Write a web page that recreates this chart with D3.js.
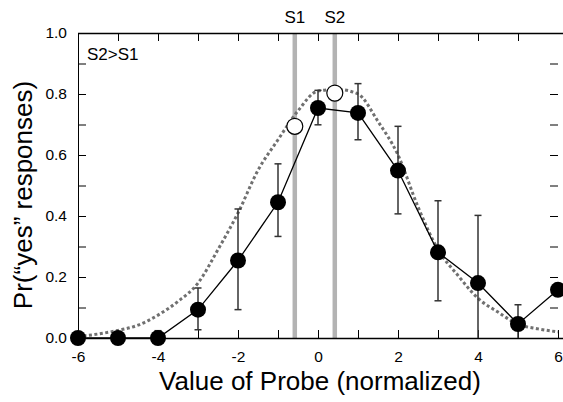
<!DOCTYPE html>
<html>
<head>
<meta charset="utf-8">
<script src="https://cdn.jsdelivr.net/npm/d3@7"></script>
<style>
  body { margin: 0; background: #fff; }
  svg text { font-family: "Liberation Sans", Arial, Helvetica, sans-serif; }
</style>
</head>
<body>
<svg width="563" height="402"></svg>
<script>
// probe values and observed proportions (filled circles)
const probe = [-6, -5, -4, -3, -2, -1, 0, 1, 2, 3, 4, 5, 6];
const pYes  = [0, 0, 0, 0.093, 0.254, 0.445, 0.754, 0.738, 0.549, 0.281, 0.180, 0.046, 0.158];
const errLo = [null, null, 0, 0.027, 0.093, 0.333, 0.699, 0.650, 0.407, 0.122, 0, 0, null];
const errHi = [null, null, 0.024, 0.164, 0.423, 0.571, 0.812, 0.834, 0.694, 0.450, 0.402, 0.109, null];

// model curve (dashed grey)
const modelX = [-6, -5.5, -5, -4.5, -4, -3.5, -3, -2.5, -2, -1.5, -1, -0.5, 0, 0.5, 1, 1.5, 2, 2.5, 3, 3.5, 4, 4.5, 5, 5.5, 6];
const modelY = [0.005, 0.013, 0.025, 0.042, 0.075, 0.12, 0.18, 0.29, 0.41, 0.55, 0.65, 0.745, 0.81, 0.815, 0.80, 0.71, 0.60, 0.43, 0.29, 0.205, 0.13, 0.085, 0.045, 0.03, 0.02];

// standards S1, S2 (open circles on the grey bars)
const stdLabel = ["S1", "S2"];
const stdX = [-0.58, 0.42];
const stdY = [0.694, 0.803];

const xTicks = d3.range(-6, 7, 1);
const yTicks = d3.range(0, 1.01, 0.1);

const svg = d3.select("svg");
const W = 563;
const mLeft = 78, mRight = 558, mTop = 33, mBottom = 338;
const tickFont = "Liberation Sans, Arial, sans-serif";

const x = d3.scaleLinear().domain([-6, 6]).range([mLeft, mRight]);
const y = d3.scaleLinear().domain([0, 1]).range([mBottom, mTop]);

// grey standard bars
svg.append("g").selectAll("line")
    .data(stdX)
    .join("line")
    .attr("x1", d => x(d)).attr("x2", d => x(d))
    .attr("y1", mTop).attr("y2", mBottom)
    .attr("stroke", "#b3b3b3")
    .attr("stroke-width", 4.5);

svg.append("g").selectAll("text")
    .data(stdLabel)
    .join("text")
    .attr("x", (d, i) => x(stdX[i]))
    .attr("y", 23)
    .attr("text-anchor", "middle")
    .attr("font-size", 17)
    .text(d => d);

// axes, ticks pointing inward
const fmt = d => (Math.round(d * 10) % 2 === 0 ? d3.format(".1f")(d) : "");
svg.append("g")
    .attr("transform", `translate(${mLeft},0)`)
    .call(d3.axisLeft(y).tickValues(yTicks).tickFormat(fmt).tickSizeInner(-8).tickSizeOuter(0).tickPadding(11))
    .call(g => g.selectAll("text").attr("font-size", 15.5).attr("fill", "#000").style("font-family", tickFont));

svg.append("g")
    .attr("transform", `translate(${mRight},0)`)
    .call(d3.axisLeft(y).tickValues(yTicks.slice(1)).tickFormat("").tickSize(8))
    .call(g => g.select(".domain").remove());

svg.append("g")
    .attr("transform", `translate(0,${mBottom})`)
    .call(d3.axisBottom(x).tickValues(xTicks).tickFormat(d => (d % 2 === 0 ? d3.format("d")(d).replace("−", "-") : "")).tickSizeInner(-8).tickSizeOuter(0).tickPadding(13))
    .call(g => g.select(".domain").remove())
    .call(g => g.selectAll("text").attr("font-size", 15.5).attr("fill", "#000").style("font-family", tickFont));

svg.append("g")
    .attr("transform", `translate(0,${mTop})`)
    .call(d3.axisTop(x).tickValues(xTicks.slice(1, -1)).tickFormat("").tickSize(-8))
    .call(g => g.select(".domain").remove());

// frame lines (top and bottom run to the edge)
svg.append("line").attr("x1", mLeft).attr("x2", W).attr("y1", mBottom + 0.5).attr("y2", mBottom + 0.5)
    .attr("stroke", "#000").attr("stroke-width", 1.5);
svg.append("line").attr("x1", mLeft).attr("x2", W).attr("y1", mTop + 0.5).attr("y2", mTop + 0.5)
    .attr("stroke", "#000").attr("stroke-width", 1.5);

// model curve
const model = modelX.map((d, i) => [d, modelY[i]]);
svg.append("path")
    .datum(model)
    .attr("fill", "none")
    .attr("stroke", "#707070")
    .attr("stroke-width", 3)
    .attr("stroke-dasharray", "3,2.5")
    .attr("d", d3.line().x(d => x(d[0])).y(d => y(d[1])).curve(d3.curveMonotoneX));

// error bars
const bars = probe.map((d, i) => ({ x: d, lo: errLo[i], hi: errHi[i] })).filter(d => d.hi !== null);
const eb = svg.append("g").attr("stroke", "#333").attr("stroke-width", 1.5);
eb.selectAll(".v").data(bars).join("line")
    .attr("x1", d => x(d.x)).attr("x2", d => x(d.x))
    .attr("y1", d => y(d.lo)).attr("y2", d => y(d.hi));
eb.selectAll(".capH").data(bars).join("line")
    .attr("x1", d => x(d.x) - 3.5).attr("x2", d => x(d.x) + 3.5)
    .attr("y1", d => y(d.hi)).attr("y2", d => y(d.hi));
eb.selectAll(".capL").data(bars.filter(d => d.lo > 0)).join("line")
    .attr("x1", d => x(d.x) - 3.5).attr("x2", d => x(d.x) + 3.5)
    .attr("y1", d => y(d.lo)).attr("y2", d => y(d.lo));

// observed data line and points
const obs = probe.map((d, i) => [d, pYes[i]]);
svg.append("path")
    .datum(obs)
    .attr("fill", "none")
    .attr("stroke", "#000")
    .attr("stroke-width", 1.3)
    .attr("d", d3.line().x(d => x(d[0])).y(d => y(d[1])));

svg.append("g").selectAll("circle")
    .data(obs)
    .join("circle")
    .attr("cx", d => x(d[0]))
    .attr("cy", d => y(d[1]))
    .attr("r", 8)
    .attr("fill", "#000");

svg.append("g").selectAll("circle")
    .data(stdX)
    .join("circle")
    .attr("cx", d => x(d))
    .attr("cy", (d, i) => y(stdY[i]))
    .attr("r", 8)
    .attr("fill", "#fff")
    .attr("stroke", "#000")
    .attr("stroke-width", 1.2);

// labels
svg.append("text")
    .attr("x", 87).attr("y", 60)
    .attr("font-size", 17)
    .text("S2>S1");

svg.append("text")
    .attr("x", 320).attr("y", 390)
    .attr("text-anchor", "middle")
    .attr("font-size", 26)
    .text("Value of Probe (normalized)");

svg.append("text")
    .attr("transform", "translate(32,195) rotate(-90)")
    .attr("text-anchor", "middle")
    .attr("font-size", 26)
    .text("Pr(\u201cyes\u201d responses)");
</script>
</body>
</html>
